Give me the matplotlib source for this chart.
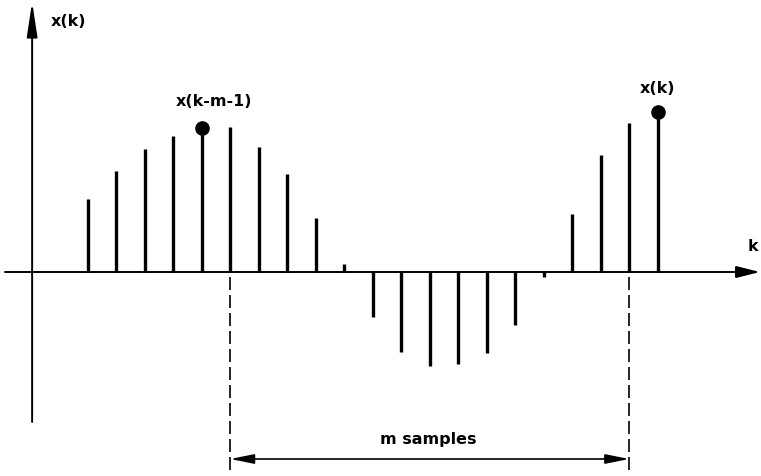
import matplotlib
matplotlib.use("Agg")
import matplotlib.pyplot as plt
import numpy as np

# Data: sample index and amplitude
k = list(range(21))
x_vals = [0.73, 1.01, 1.23, 1.36, 1.44, 1.45, 1.25, 0.98, 0.54, 0.08,
          -0.45, -0.80, -0.94, -0.92, -0.81, -0.53, -0.05, 0.58, 1.17, 1.49, 1.60]
marked = [4, 20]                      # samples with dots
marked_labels = ["x(k-m-1)", "x(k)"]
window = [5, 19]                      # m samples window limits
y_label = "x(k)"
x_label = "k"
window_label = "m samples"

fig = plt.figure(figsize=(7.61, 4.77), dpi=100)
ax = fig.add_axes([0, 0, 1, 1])
ax.axis('off')
ax.set_xlim(-3.077, 23.625)
ax.set_ylim(-2.04, 2.73)

font = dict(family='DejaVu Sans', weight='bold', size=11.5)

# axes with arrows
ax.annotate('', xy=(23.59, 0), xytext=(-2.90, 0),
            arrowprops=dict(arrowstyle='-|>,head_length=1.44,head_width=0.36',
                            mutation_scale=10, lw=1.4, color='black',
                            shrinkA=0, shrinkB=0))
ax.annotate('', xy=(-1.95, 2.70), xytext=(-1.95, -1.50),
            arrowprops=dict(arrowstyle='-|>,head_length=2.1,head_width=0.32',
                            mutation_scale=10, lw=1.4, color='black',
                            shrinkA=0, shrinkB=0))

# stems
ax.vlines(k, 0, x_vals, lw=2.4, color='black', capstyle='butt')
ax.plot([k[i] for i in marked], [x_vals[i] for i in marked], 'o',
        ms=9.5, color='black')

# dashed window lines
for w in window:
    ax.plot([w, w], [-0.05, -2.0], color='black', lw=1.2,
            ls=(0, (7.8, 3.0)))

# double arrow
ax.annotate('', xy=(window[1], -1.87), xytext=(window[0], -1.87),
            arrowprops=dict(arrowstyle='<|-|>,head_length=1.44,head_width=0.29',
                            mutation_scale=10, lw=1.2, color='black',
                            shrinkA=0, shrinkB=0))

# labels
ax.text(-0.656, 2.51, y_label, ha='center', va='center', **font)
ax.text(4.43, 1.71, marked_labels[0], ha='center', va='center', **font)
ax.text(19.98, 1.84, marked_labels[1], ha='center', va='center', **font)
ax.text(23.34, 0.26, x_label, ha='center', va='center', **font)
ax.text(11.94, -1.67, window_label, ha='center', va='center', **font)

fig.savefig('out.png', dpi=100)
